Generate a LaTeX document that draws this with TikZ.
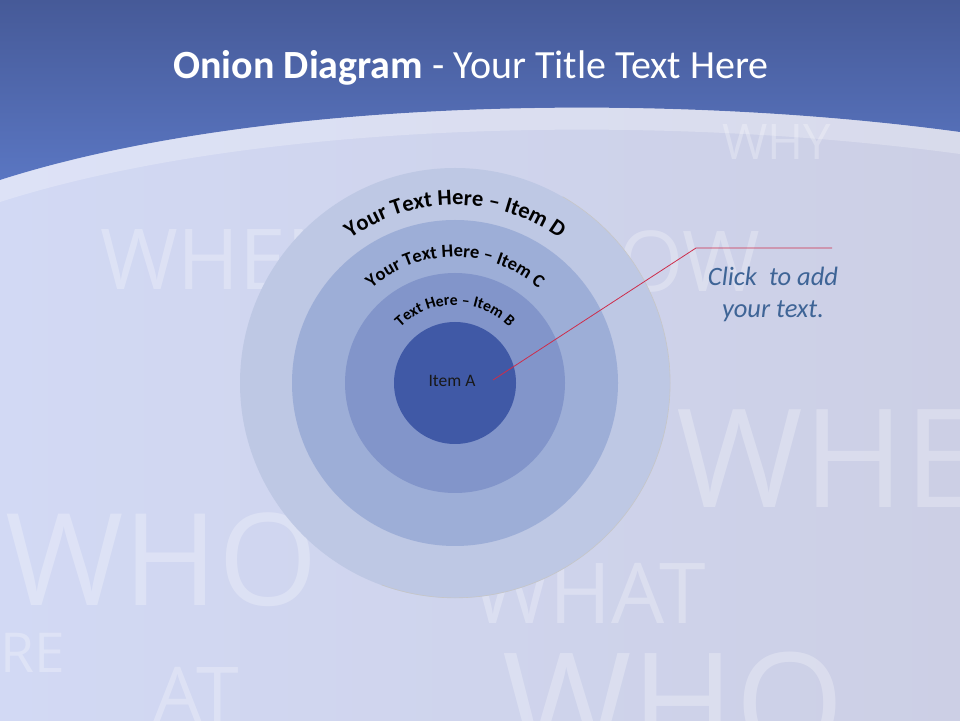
\documentclass[tikz,border=0pt]{standalone}
\usepackage{fontspec}
\setmainfont{Carlito}
\newfontfamily\bgfont{Open Sans}
\usetikzlibrary{decorations.text}
\definecolor{topblue}{RGB}{70,90,152}
\definecolor{midblue}{RGB}{90,118,194}
\definecolor{paleback}{RGB}{210,217,244}
\definecolor{greyback}{RGB}{204,207,229}
\definecolor{ringD}{RGB}{190,200,228}
\definecolor{ringC}{RGB}{157,174,215}
\definecolor{ringB}{RGB}{130,149,202}
\definecolor{ringA}{RGB}{64,89,166}
\definecolor{callred}{RGB}{205,45,75}
\definecolor{noteblue}{RGB}{62,100,150}
\tikzstyle{ring}=[circle,inner sep=0pt,draw=none]
\tikzstyle{ghost}=[text=white,opacity=0.27,inner sep=0pt,anchor=base west]
\tikzstyle{arclabel}=[decorate,decoration={text along path,text align=center}]
\tikzstyle{callout}=[draw=callred,line width=0.8pt]

\begin{document}
\begin{tikzpicture}[x=1pt,y=1pt]
    \useasboundingbox (0,0) rectangle (960,720);
    % backdrop and faint words
    \shade[left color=paleback,right color=greyback] (0,0) rectangle (960,720);
    \foreach \x/\y/\s/\w [count=\i] in {5/115/128/WHO,676/212/137/WHE,472/97/84/WHAT,
        502/-33/140/WHO,0/48/55/RE,153/-2/77/AT,100/430/84/WHEN,618/428/84/OW,722/560/49/WHY}
        \node[ghost,font=\bgfont\fontsize{\s}{\s}\selectfont] (ghost\i) at (\x,\y) {\w};

    % top band with its light rim
    \shade[top color=topblue,bottom color=midblue] (0,720) -- (960,720) -- (960,588)
        .. controls (650,630) and (250,620) .. (0,540) -- cycle;
    \fill[white,opacity=0.25] (0,540) .. controls (250,620) and (650,630) .. (960,588)
        -- (960,566) .. controls (650,608) and (250,598) .. (0,518) -- cycle;
    \node[text=white,font=\fontsize{40}{46}\selectfont,anchor=base] (title) at (471,641)
        {\bfseries Onion Diagram\mdseries{} - Your Title Text Here};

    % the rings, outside in
    \coordinate (ctr) at (455,337);
    \foreach \r/\name in {215/D,163/C,110/B,61/A}
        \node[ring,fill=ring\name,minimum size=2*\r] (ring\name) at (ctr) {};
    \draw[gray!45,line width=0.6pt] (ringD.60) arc[start angle=60,end angle=-110,radius=215];

    % labels along the rings
    \path[arclabel,decoration={text={|\bfseries\fontsize{22.5}{22.5}\selectfont|Your Text Here – Item D}}]
        ([xshift=-178pt]ctr) arc[start angle=180,end angle=0,radius=178];
    \path[arclabel,decoration={text={|\bfseries\fontsize{18.5}{18.5}\selectfont|Your Text Here – Item C}}]
        ([xshift=-126pt]ctr) arc[start angle=180,end angle=0,radius=126];
    \path[arclabel,decoration={text={|\bfseries\fontsize{15.7}{15.7}\selectfont|Text Here – Item B}}]
        ([xshift=-78pt]ctr) arc[start angle=180,end angle=0,radius=78];
    \node[font=\fontsize{17.5}{17.5}\selectfont,text=black!90] (itemA) at (452,339) {Item A};

    % callout
    \coordinate (tip) at (493,340);
    \coordinate (elbow) at (696,472);
    \coordinate (tail) at (832,472);
    \draw[callout] (tip) -- (elbow) -- (tail);
    \node[font=\itshape\fontsize{26.5}{32}\selectfont,text=noteblue,align=center] (note) at (773,426)
        {Click \ to add\\your text.};
\end{tikzpicture}
\end{document}
